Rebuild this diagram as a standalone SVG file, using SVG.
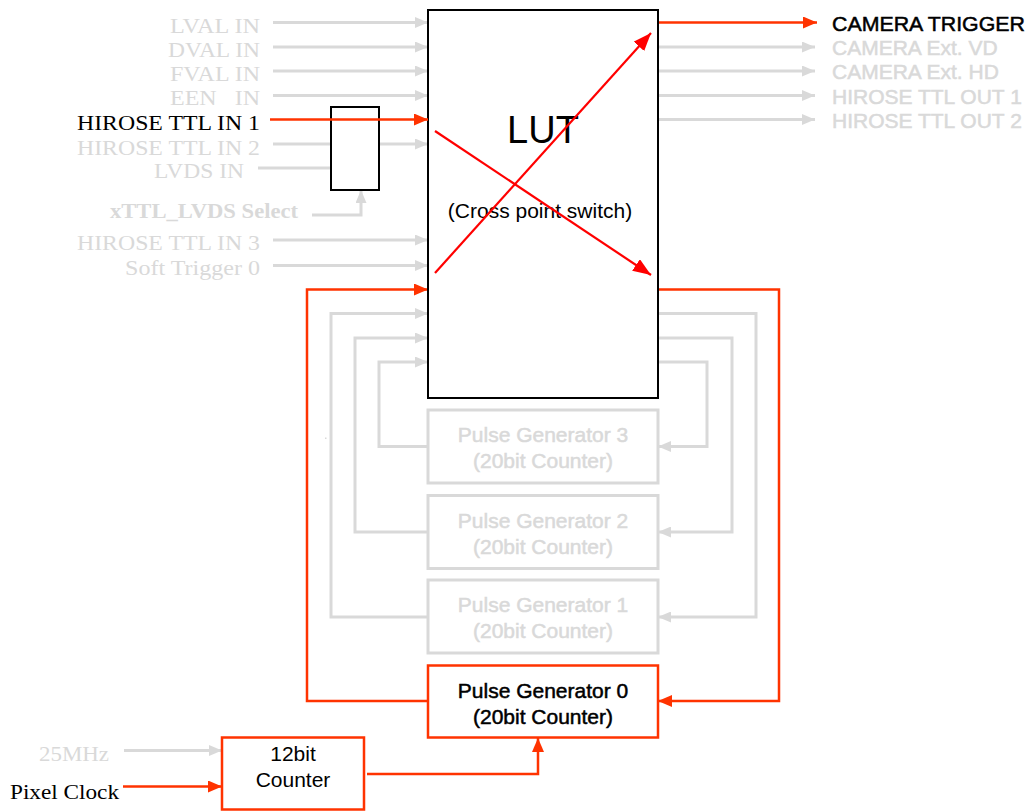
<svg xmlns="http://www.w3.org/2000/svg" width="1033" height="811" viewBox="0 0 1033 811">
<style>
.g{stroke:#d9d9d9;stroke-width:3;fill:none}
.r{stroke:#ff3300;stroke-width:2.5;fill:none}
.x{stroke:#ff0000;stroke-width:2.2;fill:none}
.lbl{font-family:"Liberation Serif","Times New Roman",serif;font-size:22px;text-anchor:end}
.sans{font-family:"Liberation Sans",Arial,sans-serif;font-size:21px;stroke-width:0.5px}
.mid{text-anchor:middle}
.gt{fill:#d9d9d9}
.bt{fill:#000}
.sans.gt{stroke:#d9d9d9}
.sans.bt{stroke:#000}
.gbox{fill:#fff;stroke:#d9d9d9;stroke-width:3}
.rbox{fill:#fff;stroke:#ff3300;stroke-width:2.5}
</style>
<defs>
<marker id="ag" markerUnits="userSpaceOnUse" markerWidth="13" markerHeight="11" refX="13" refY="5.5" orient="auto"><path d="M0,0 L13,5.5 L0,11 z" fill="#d9d9d9"/></marker>
<marker id="ar" markerUnits="userSpaceOnUse" markerWidth="14" markerHeight="12" refX="14" refY="6" orient="auto"><path d="M0,0 L14,6 L0,12 z" fill="#ff3300"/></marker>
<marker id="ax" markerUnits="userSpaceOnUse" markerWidth="18" markerHeight="14" refX="18" refY="7" orient="auto"><path d="M0,0 L18,7 L0,14 z" fill="#ff0000"/></marker>
</defs>

<g id="connectors">
<path class="g" d="M273,22.5 H428" marker-end="url(#ag)"/>
<path class="g" d="M273,47 H428" marker-end="url(#ag)"/>
<path class="g" d="M273,71 H428" marker-end="url(#ag)"/>
<path class="g" d="M273,95.5 H428" marker-end="url(#ag)"/>
<path class="g" d="M273,144 H331"/>
<path class="g" d="M379,144 H428" marker-end="url(#ag)"/>
<path class="g" d="M258,168 H331"/>
<path class="g" d="M312,215 H361 V190" marker-end="url(#ag)"/>
<path class="g" d="M273,240 H428" marker-end="url(#ag)"/>
<path class="g" d="M273,265.5 H428" marker-end="url(#ag)"/>
<path class="r" d="M658,22.5 H817" marker-end="url(#ar)"/>
<path class="g" d="M658,47 H815" marker-end="url(#ag)"/>
<path class="g" d="M658,71 H815" marker-end="url(#ag)"/>
<path class="g" d="M658,95.5 H815" marker-end="url(#ag)"/>
<path class="g" d="M658,119.5 H815" marker-end="url(#ag)"/>
<path class="g" d="M428,617 H331 V313.5 H428" marker-end="url(#ag)"/>
<path class="g" d="M428,532 H355 V338 H428" marker-end="url(#ag)"/>
<path class="g" d="M428,446.5 H379 V362 H428" marker-end="url(#ag)"/>
<path class="g" d="M658,313.5 H756 V617 H658" marker-end="url(#ag)"/>
<path class="g" d="M658,338 H732 V532 H658" marker-end="url(#ag)"/>
<path class="g" d="M658,362 H707 V446.5 H658" marker-end="url(#ag)"/>
<path class="r" d="M428,701 H307 V289.5 H428" marker-end="url(#ar)"/>
<path class="r" d="M658,289.5 H779 V701 H658" marker-end="url(#ar)"/>
<path class="g" d="M124,750.5 H222" marker-end="url(#ag)"/>
<path class="r" d="M123,786.5 H222" marker-end="url(#ar)"/>
<path class="r" d="M367,774 H538 V738" marker-end="url(#ar)"/>
</g>

<g id="lut">
<rect x="428" y="10" width="230" height="388" fill="#fff" stroke="#000" stroke-width="2"/>
<text class="sans mid bt" x="543" y="143" style="font-size:38px;stroke-width:0">LUT</text>
<text class="sans mid bt" x="540" y="218" style="stroke-width:0">(Cross point switch)</text>
<path class="x" d="M435,131 L651,275" marker-end="url(#ax)"/>
<path class="x" d="M435,273 L651,33" marker-end="url(#ax)"/>
</g>

<g id="select-switch">
<rect x="331" y="107" width="48" height="83" fill="#fff" stroke="#000" stroke-width="2"/>
</g>

<g id="hirose1-connector">
<path class="r" d="M270,119.5 H428" marker-end="url(#ar)"/>
</g>

<g id="input-labels">
<text class="lbl gt" x="260" y="33" textLength="90" lengthAdjust="spacingAndGlyphs">LVAL IN</text>
<text class="lbl gt" x="260" y="57" textLength="92" lengthAdjust="spacingAndGlyphs">DVAL IN</text>
<text class="lbl gt" x="260" y="81" textLength="90" lengthAdjust="spacingAndGlyphs">FVAL IN</text>
<text class="lbl gt" x="260" y="105" textLength="90" lengthAdjust="spacingAndGlyphs" xml:space="preserve">EEN   IN</text>
<text class="lbl bt" x="260" y="130" textLength="183" lengthAdjust="spacingAndGlyphs">HIROSE TTL IN 1</text>
<text class="lbl gt" x="260" y="155" textLength="183" lengthAdjust="spacingAndGlyphs">HIROSE TTL IN 2</text>
<text class="lbl gt" x="244" y="178" textLength="90" lengthAdjust="spacingAndGlyphs">LVDS IN</text>
<text class="lbl gt" x="298" y="218" textLength="188" lengthAdjust="spacingAndGlyphs" style="font-weight:bold">xTTL_LVDS Select</text>
<text class="lbl gt" x="260" y="250" textLength="183" lengthAdjust="spacingAndGlyphs">HIROSE TTL IN 3</text>
<text class="lbl gt" x="260" y="275" textLength="135" lengthAdjust="spacingAndGlyphs">Soft Trigger 0</text>
</g>

<g id="output-labels">
<text class="sans bt" x="832" y="31" textLength="193" lengthAdjust="spacingAndGlyphs">CAMERA TRIGGER</text>
<text class="sans gt" x="832" y="55">CAMERA Ext. VD</text>
<text class="sans gt" x="832" y="79">CAMERA Ext. HD</text>
<text class="sans gt" x="832" y="104">HIROSE TTL OUT 1</text>
<text class="sans gt" x="832" y="128">HIROSE TTL OUT 2</text>
</g>

<g id="pg3">
<rect class="gbox" x="428" y="410" width="230" height="73"/>
<text class="sans mid gt" x="543" y="442">Pulse Generator 3</text>
<text class="sans mid gt" x="543" y="468">(20bit Counter)</text>
</g>
<g id="pg2">
<rect class="gbox" x="428" y="495.5" width="230" height="73"/>
<text class="sans mid gt" x="543" y="527.5">Pulse Generator 2</text>
<text class="sans mid gt" x="543" y="553.5">(20bit Counter)</text>
</g>
<g id="pg1">
<rect class="gbox" x="428" y="580" width="230" height="73"/>
<text class="sans mid gt" x="543" y="612">Pulse Generator 1</text>
<text class="sans mid gt" x="543" y="638">(20bit Counter)</text>
</g>
<g id="pg0">
<rect class="rbox" x="428" y="665.5" width="230" height="72"/>
<text class="sans mid bt" x="543" y="697.5">Pulse Generator 0</text>
<text class="sans mid bt" x="543" y="723.5">(20bit Counter)</text>
</g>

<g id="counter12">
<rect class="rbox" x="222" y="737.5" width="142" height="72"/>
<text class="sans mid bt" x="293" y="761" style="stroke-width:0">12bit</text>
<text class="sans mid bt" x="293" y="786.5" style="stroke-width:0">Counter</text>
</g>

<g id="clock-labels">
<text class="lbl gt" x="109" y="761" textLength="70" lengthAdjust="spacingAndGlyphs">25MHz</text>
<text class="lbl bt" x="119" y="799" textLength="109" lengthAdjust="spacingAndGlyphs">Pixel Clock</text>
</g>

<rect x="325" y="437.5" width="1.5" height="1.5" fill="#d9d9d9"/>
</svg>
